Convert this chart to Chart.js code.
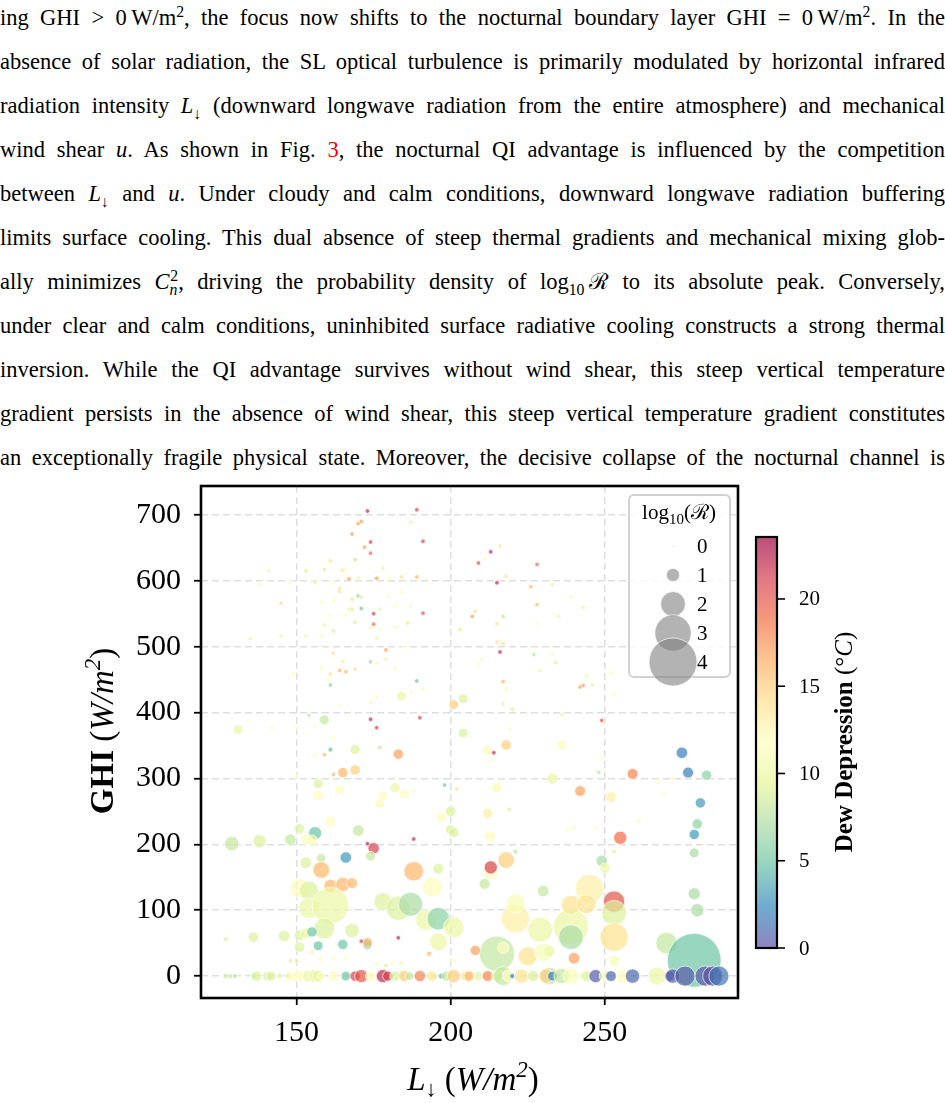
<!DOCTYPE html>
<html>
<head>
<meta charset="utf-8">
<script src="https://cdn.jsdelivr.net/npm/chart.js@4.4.1/dist/chart.umd.min.js"></script>
<style>
  body { margin: 0; background: #fff; width: 945px; height: 1103px; position: relative; overflow: hidden; font-family: "Liberation Serif", "DejaVu Serif", serif; }
  .ln { position: absolute; left: 0; width: 945px; height: 44px; line-height: 44px; font-size: 22.5px; text-align: justify; text-align-last: justify; color: #000; }
  .ln sup, .ln sub { font-size: 0.7em; line-height: 0; }
  .red { color: #e00; }
  #wrap { position: absolute; left: 0; top: 440px; width: 945px; height: 663px; }
</style>
</head>
<body>
<div class="ln" style="top:-4px">ing GHI &gt; 0&#8201;W/m<sup>2</sup>, the focus now shifts to the nocturnal boundary layer GHI = 0&#8201;W/m<sup>2</sup>. In the</div>
<div class="ln" style="top:40px">absence of solar radiation, the SL optical turbulence is primarily modulated by horizontal infrared</div>
<div class="ln" style="top:84px">radiation intensity <i>L</i><sub>↓</sub> (downward longwave radiation from the entire atmosphere) and mechanical</div>
<div class="ln" style="top:128px">wind shear <i>u</i>. As shown in Fig. <span class="red">3</span>, the nocturnal QI advantage is influenced by the competition</div>
<div class="ln" style="top:172px">between <i>L</i><sub>↓</sub> and <i>u</i>. Under cloudy and calm conditions, downward longwave radiation buffering</div>
<div class="ln" style="top:216px">limits surface cooling. This dual absence of steep thermal gradients and mechanical mixing glob-</div>
<div class="ln" style="top:260px">ally minimizes <i>C</i><sub><i>n</i></sub><sup style="margin-left:-0.45em">2</sup>, driving the probability density of log<sub>10</sub>&#8201;ℛ to its absolute peak. Conversely,</div>
<div class="ln" style="top:304px">under clear and calm conditions, uninhibited surface radiative cooling constructs a strong thermal</div>
<div class="ln" style="top:348px">inversion. While the QI advantage survives without wind shear, this steep vertical temperature</div>
<div class="ln" style="top:392px">gradient persists in the absence of wind shear, this steep vertical temperature gradient constitutes</div>
<div class="ln" style="top:436px">an exceptionally fragile physical state. Moreover, the decisive collapse of the nocturnal channel is</div>

<div id="wrap"><canvas id="grafico" width="945" height="663"></canvas></div>

<script>
// eixos e ticks
const xTicks = [150, 200, 250];
const yTicks = [0, 100, 200, 300, 400, 500, 600, 700];
const cbTicks = [0, 5, 10, 15, 20];
const legendVals = [0, 1, 2, 3, 4];
const cbMax = 23.55;

// L_down (W/m2)
const lwDown = [
  // pontos pequenos, GHI alto
  173,189,170,171,187,168,174,191,172,174, 169,161,141,153,159,165,166,178,138,148,
  156,162,167,170,176,180,184,189,164,164, 184,145,158,162,168,170,171,180,167,168,
  171,177,182,187,161,166,175,191,169,175, 174,177,182,186,159,162,203,135,145,153,
  158,176,185,162,179,165,174,176,179,158, 164,166,169,182,161,149,160,161,189,191,
  187,184,201,204,176,174,164,154,159,174, 190,176,131,142,150,156,162,204,
  216,213,211,209,228,218,215,226,233,239, 228,243,208,207,217,235,215,228,215,217,
  216,227,233,210,209,234,229,252,244,217, 242,243,246,218,253,217,220,236,249,219,
  // meio, esquerda
  169,177,161,156,159,183,165,169,162,150, 157,157,164,182,178,185,177,188,198,202,
  200,197,200,201,161,151,156,170,153,155, 129,138,148,173,175,174,188,158,166,153,
  196,158,188,151,154,161,165,168,194,154, 161,178,183,187,192,196,201,196,159,168,
  146,136,127,151,153,155,151,157,165,173, 173,171,183,193,201,148,150,155,158,162,
  166,176,179,181,184,
  // meio, direita
  212,218,214,213,236,249,233,248,259,275, 277,283,267,272,269,215,242,252,219,212,
  213,261,238,240,247,281,280,279,279,279, 280,255,253,221,249,250,213,213,218,211,
  230,221,221,229,239,239,245,239,244,253, 253,253,253,215,217,208,225,230,232,240,
  270,279,
  // GHI = 0
  127,128.5,130,136,137,140.7,141.8,144.5,147,148, 150,151.5,154,156,157,158,162,166,169,171,
  174,178,179.6,182,185,186.7,190,194,197,198.6, 201,205,206,209,212,215,217,218.6,220,223,
  226.7,232,231,233,236,239,242,244,247,250, 252,256,259,267,271,272,276,282.5,285,287
];

// GHI (W/m2)
const ghi = [
  706,708,687,690,689,671,659,660,651,642, 632,630,615,615,617,616,618,619,595,598,
  598,597,603,604,604,606,606,606,588,584, 582,566,567,571,572,577,575,576,557,557,
  558,557,562,561,547,548,550,551,537,534, 529,527,530,536,533,524,526,512,516,516,
  517,513,500,490,495,477,477,475,481,468, 464,462,466,466,459,459,450,442,448,435,
  431,425,412,421,424,415,410,396,389,390, 392,377,374,377,377,379,361,369,
  653,644,634,627,625,607,597,591,594,575, 564,559,554,546,546,546,535,535,507,505,
  492,488,489,481,474,476,464,461,456,447, 439,441,442,436,428,413,405,397,388,375,
  344,347,344,335,336,337,309,313,306,303, 292,274,283,286,274,276,262,281,290,284,
  250,241,222,218,235,224,217,221,208,206, 201,205,207,201,194,182,208,179,180,172,
  163,161,159,133,130,137,139,141,135,103, 107,113,103,109,85,87,74,52,72,69,
  61,59,56,62,65,67,44,46,48,48, 51,53,58,34,24,23,23,36,25,26,
  27,18,16,19,20,
  343,351,339,327,351,330,300,309,307,339, 309,305,294,299,277,286,281,272,253,247,
  212,235,222,225,224,263,231,215,187,125, 100,210,189,189,175,164,158,165,176,140,
  129,87,110,70,75,59,133,108,109,113, 96,59,23,34,43,39,30,36,38,27,
  50,24,
  0,0,0,0,0,0,0,0,0,0, 0,0,0,0,0,0,0,0,0,0,
  0,0,0,0,0,0,0,0,0,0, 0,0,0,0,0,0,0,0,0,0,
  0,0,0,0,0,0,0,0,0,0, 0,0,0,0,0,0,0,0,0,0
];

// Dew depression (°C)
const dewDep = [
  22,21,17,17,13,17,21,21,17,19, 15,14,13,14,14,14,12,13,11,12,
  14,12,17,10,17,12,14,16,14,14, 12,14,12,12,14,6,9,12,10,9,
  5,10,12,12,12,12,21,20,9,19, 12,12,11,14,10,9,14,10,10,10,
  12,10,12,14,17,10,7,12,10,12, 16,16,14,12,14,12,12,6,5,12,
  12,10,15,9,12,11,12,8,8,22, 21,21,10,12,12,12,12,9,
  14,22,12,20,19,14,22,16,10,12, 16,10,14,17,8,10,14,12,14,14,
  22,8,12,12,12,14,10,12,10,16, 17,17,10,12,12,10,14,10,20,12,
  9,8,5,12,16,17,16,15,16,12, 9,12,12,10,12,12,11,12,5,14,
  9,12,9,9,12,9,5,8,12,11, 8,9,8,22,21,8,22,8,3,9,
  9,16,16,12,9,16,16,16,12,10, 10,9,9,7,10,6,10,10,9,9,
  9,9,9,9,10,5,9,5,5,5, 16,21,22,16,12,9,9,13,12,12,
  12,12,9,11,13,
  12,15,22,12,12,12,10,8,18,2, 2,6,12,12,12,11,17,13,14,13,
  12,11,12,12,12,3,6,3,7,7, 7,19,14,8,7,10,12,21,15,8,
  8,13,11,10,10,7,13,14,14,20, 9,14,11,8,12,17,14,11,10,17,
  8,5,
  8,8,8,8,9,9,9,9,6,12, 12,12,10,10,10,11,12,5,21,20,
  12,22,21,9,15,8,18,14,3,8, 15,14,16,10,18,9,8,12,2,14,
  9,8,15,2,8,11,11,9,0.5,12, 1,12,1,10,0.5,0.5,0.5,0.5,0,1.5
];

// log10(R) -> tamanho da bolha
const logR = [
  0.25,0.25,0.25,0.25,0.25,0.25,0.25,0.25,0.25,0.25, 0.25,0.25,0.25,0.25,0.25,0.25,0.25,0.25,0.25,0.25,
  0.25,0.25,0.25,0.25,0.25,0.25,0.25,0.25,0.25,0.25, 0.25,0.25,0.25,0.25,0.25,0.25,0.25,0.25,0.25,0.25,
  0.25,0.25,0.25,0.25,0.25,0.25,0.25,0.25,0.25,0.25, 0.25,0.25,0.25,0.25,0.25,0.25,0.25,0.25,0.25,0.25,
  0.25,0.25,0.25,0.25,0.25,0.25,0.25,0.25,0.25,0.25, 0.25,0.25,0.25,0.25,0.25,0.25,0.25,0.25,0.25,0.25,
  0.25,0.7,0.7,0.7,0.25,0.25,0.25,0.25,0.7,0.25, 0.25,0.25,0.7,0.25,0.25,0.25,0.25,0.7,
  0.25,0.25,0.25,0.25,0.25,0.25,0.25,0.25,0.25,0.25, 0.25,0.25,0.25,0.25,0.25,0.25,0.25,0.25,0.25,0.25,
  0.25,0.25,0.25,0.25,0.25,0.25,0.25,0.25,0.25,0.25, 0.25,0.25,0.25,0.25,0.25,0.25,0.25,0.25,0.25,0.25,
  0.7,0.25,0.3,0.25,0.25,0.75,0.75,0.75,0.25,0.25, 0.7,0.75,0.7,0.75,0.7,0.7,0.7,0.25,0.25,0.25,
  0.75,0.75,0.75,0.7,0.75,0.75,1.0,0.85,0.8,0.8, 1.1,1.0,0.85,0.25,0.85,0.7,0.25,0.65,0.85,0.85,
  0.8,1.3,1.55,1.5,1.5,1.0,1.1,0.8,1.55,1.65, 3.0,1.4,1.95,1.95,1.65,1.8,1.65,1.4,1.65,1.1,
  0.85,0.75,0.3,0.8,0.8,0.75,0.75,0.7,0.75,0.7, 0.7,0.25,0.25,0.3,0.3,0.25,0.25,0.25,0.25,0.25,
  0.25,0.25,0.25,0.25,0.25,
  0.75,0.75,0.25,0.25,0.75,0.25,0.8,0.25,0.8,0.85, 0.8,0.75,0.25,0.25,0.25,0.75,0.8,0.8,0.25,0.75,
  0.8,0.25,0.25,0.25,0.25,0.75,0.75,0.75,0.7,0.9, 1.0,1.0,0.25,0.3,0.85,0.75,1.2,1.0,1.3,0.8,
  0.85,2.3,1.5,2.0,2.9,2.0,2.3,1.5,1.5,1.7, 2.0,2.3,0.85,2.9,0.85,0.75,1.5,1.4,0.85,0.85,
  1.7,4.5,
  0.3,0.3,0.3,0.4,0.75,0.7,0.7,0.3,0.3,0.75, 0.75,0.75,0.9,1.0,0.9,0.5,0.75,0.7,0.75,1.0,
  0.75,1.0,0.75,0.75,0.85,0.6,0.85,0.75,0.35,0.75, 1.0,0.8,0.75,0.7,0.8,0.85,1.5,0.85,0.3,1.1,
  0.85,1.4,1.1,0.7,1.2,1.2,0.3,0.8,1.0,0.85, 0.8,1.1,1.1,1.4,0.75,1.1,1.6,1.6,1.6,1.6
];

// Spectral_r
const spectralR = ['#5e4fa2','#3288bd','#66c2a5','#abdda4','#e6f598','#ffffbf','#fee08b','#fdae61','#f46d43','#d53e4f','#9e0142'];
function hexRgb(h) { return [1, 3, 5].map(i => parseInt(h.substr(i, 2), 16)); }
function cmap(v, a) {
  let t = Math.max(0, Math.min(1, v / cbMax)) * 10;
  const i = Math.min(9, Math.floor(t));
  const f = t - i;
  const c0 = hexRgb(spectralR[i]), c1 = hexRgb(spectralR[i + 1]);
  const c = c0.map((c, k) => Math.round(c + (c1[k] - c) * f));
  return 'rgba(' + c[0] + ',' + c[1] + ',' + c[2] + ',' + a + ')';
}
function raio(v) { return 0.8 + 5.8 * v; }

const OY = 440; // topo do canvas na pagina
const serif = '"Liberation Serif", "DejaVu Serif", serif';

// texto com partes em fontes diferentes
function richText(ctx, parts, x, y, rot) {
  ctx.save();
  ctx.translate(x, y);
  if (rot) ctx.rotate(rot);
  ctx.textAlign = 'left';
  ctx.textBaseline = 'alphabetic';
  ctx.fillStyle = '#000';
  let w = 0;
  parts.forEach(p => { ctx.font = p[1]; w += ctx.measureText(p[0]).width; });
  let cx = -w / 2;
  parts.forEach(p => {
    ctx.font = p[1];
    ctx.fillText(p[0], cx, p[2] || 0);
    cx += ctx.measureText(p[0]).width;
  });
  ctx.restore();
}

const extras = {
  id: 'extras',
  afterDatasetsDraw(chart) {
    const ctx = chart.ctx;
    // legenda de tamanhos
    ctx.save();
    ctx.beginPath();
    ctx.roundRect(629, 495 - OY, 101, 182, 5);
    ctx.fillStyle = 'rgba(255,255,255,0.8)';
    ctx.fill();
    ctx.lineWidth = 2;
    ctx.strokeStyle = 'rgba(204,204,204,0.9)';
    ctx.stroke();
    richText(ctx, [
      ['log', '21px ' + serif],
      ['10', '15px ' + serif, 5],
      ['(', '21px ' + serif],
      ['ℛ', '21px ' + serif],
      [')', '21px ' + serif]
    ], 679, 519 - OY);
    legendVals.forEach((v, i) => {
      const y = 546 + i * 29 - OY;
      ctx.beginPath();
      ctx.arc(673, y, raio(v), 0, Math.PI * 2);
      ctx.fillStyle = 'rgba(128,128,128,0.6)';
      ctx.fill();
      ctx.lineWidth = 0.8;
      ctx.strokeStyle = 'rgba(255,255,255,0.85)';
      ctx.stroke();
      ctx.fillStyle = '#000';
      ctx.font = '21px ' + serif;
      ctx.textAlign = 'left';
      ctx.textBaseline = 'middle';
      ctx.fillText(String(v), 697, y + 1);
    });
    ctx.restore();
  },
  afterDraw(chart) {
    const ctx = chart.ctx;
    const a = chart.chartArea;
    ctx.save();
    // moldura
    ctx.lineWidth = 2.6;
    ctx.strokeStyle = '#000';
    ctx.strokeRect(a.left, a.top, a.right - a.left, a.bottom - a.top);

    // barra de cores
    const cbX = 756, cbW = 21, cbTop = 537 - OY, cbH = 411;
    const g = ctx.createLinearGradient(0, cbTop + cbH, 0, cbTop);
    spectralR.forEach((c, i) => g.addColorStop(i / 10, cmap(i / 10 * cbMax, 0.7)));
    ctx.fillStyle = g;
    ctx.fillRect(cbX, cbTop, cbW, cbH);
    ctx.lineWidth = 2.2;
    ctx.strokeRect(cbX, cbTop, cbW, cbH);
    ctx.font = '21px ' + serif;
    ctx.fillStyle = '#000';
    ctx.textAlign = 'left';
    ctx.textBaseline = 'middle';
    cbTicks.forEach(t => {
      const y = cbTop + cbH - t / cbMax * cbH;
      ctx.beginPath();
      ctx.moveTo(cbX + cbW, y);
      ctx.lineTo(cbX + cbW + 8, y);
      ctx.lineWidth = 1.6;
      ctx.stroke();
      ctx.fillText(String(t), 799, y + 1);
    });
    richText(ctx, [
      ['Dew Depression', 'bold 25px ' + serif],
      [' (°', '25px ' + serif],
      ['C', 'italic 25px ' + serif],
      [')', '25px ' + serif]
    ], 852, 742 - OY, -Math.PI / 2);

    // titulos dos eixos
    richText(ctx, [
      ['GHI', 'bold 33px ' + serif],
      [' (', '33px ' + serif],
      ['W/m', 'italic 33px ' + serif],
      ['2', 'italic 23px ' + serif, -13],
      [')', '33px ' + serif]
    ], 113, 731 - OY, -Math.PI / 2);
    richText(ctx, [
      ['L', 'italic 33px ' + serif],
      ['↓', '22px ' + serif, 6],
      [' (', '33px ' + serif],
      ['W/m', 'italic 33px ' + serif],
      ['2', 'italic 23px ' + serif, -13],
      [')', '33px ' + serif]
    ], 473, 1090 - OY);
    ctx.restore();
  }
};

const pontos = lwDown.map((x, i) => ({ x: x, y: ghi[i], r: raio(logR[i]) }));

const ctx = document.getElementById('grafico').getContext('2d');
new Chart(ctx, {
  type: 'bubble',
  data: {
    datasets: [{
      data: pontos,
      backgroundColor: c => cmap(dewDep[c.dataIndex], 0.7),
      borderColor: 'rgba(255,255,255,0.85)',
      borderWidth: 0.8
    }]
  },
  options: {
    responsive: false,
    animation: false,
    devicePixelRatio: 1,
    layout: { padding: { top: 46, right: 207, left: 0, bottom: 0 } },
    plugins: { legend: { display: false }, tooltip: { enabled: false } },
    scales: {
      x: {
        type: 'linear', min: 119, max: 293.2,
        afterBuildTicks: s => { s.ticks = xTicks.map(v => ({ value: v })); },
        afterFit: s => { s.height = 105; },
        ticks: { font: { family: serif, size: 30 }, color: '#000', padding: 10, maxRotation: 0 },
        grid: { color: 'rgba(0,0,0,0.13)', lineWidth: 1.5, tickLength: 7, tickColor: '#000', tickWidth: 1.8 },
        border: { display: false, dash: [7, 4] }
      },
      y: {
        type: 'linear', min: -33.3, max: 744,
        afterBuildTicks: s => { s.ticks = yTicks.map(v => ({ value: v })); },
        afterFit: s => { s.width = 201; },
        ticks: { font: { family: serif, size: 30 }, color: '#000', padding: 13 },
        grid: { color: 'rgba(0,0,0,0.13)', lineWidth: 1.5, tickLength: 7, tickColor: '#000', tickWidth: 1.8 },
        border: { display: false, dash: [7, 4] }
      }
    }
  },
  plugins: [extras]
});
</script>
</body>
</html>
